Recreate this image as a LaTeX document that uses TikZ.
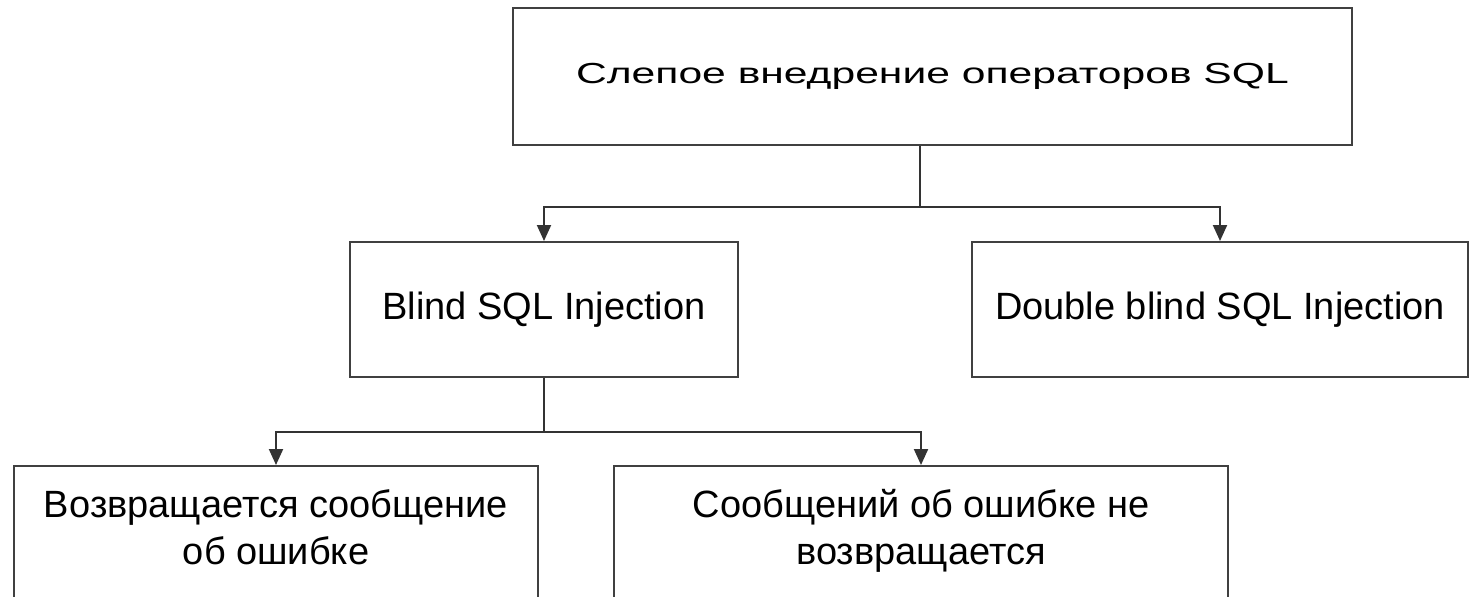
\documentclass[tikz,border=0pt]{standalone}
\usepackage{fontspec}
\setmainfont{Liberation Sans}
\usetikzlibrary{arrows.meta}

\tikzset{
  block/.style={draw=black!75, line width=1pt, align=center, inner sep=0pt,
    font=\fontsize{19}{23.5}\selectfont},
  leaf/.style={block, anchor=north, text height=49pt, text depth=48.5pt},
  arr/.style={draw=black!80, line width=1pt, -{Triangle[length=8pt,width=7pt]}},
  link/.style={draw=black!80, line width=1pt}
}

\begin{document}
\begin{tikzpicture}[x=0.5pt, y=-0.5pt]
  \useasboundingbox (0, 0) rectangle (1470, 596);
  \clip (0, 0) rectangle (1470, 596);

\node [block, minimum width=419.5pt, minimum height=68.5pt,
  font=\fontsize{14.5}{17}\selectfont] (blindsql) at (932.5, 76.5)
  {\scalebox{1.47}[1]{Слепое внедрение операторов SQL}};
\node [block, minimum width=194pt, minimum height=67.5pt] (blind) at (544, 309.5)
  {Blind SQL Injection};
\node [block, minimum width=248pt, minimum height=67.5pt] (dblind) at (1220, 309.5)
  {Double blind SQL Injection};
\node [leaf, minimum width=262pt] (errmsg) at (276, 465)
  {Возвращается сообщение\\об ошибке};
\node [leaf, minimum width=307pt] (noerr) at (921, 465)
  {Сообщений об ошибке не\\возвращается};

\coordinate (j1) at (920, 207);
\coordinate (j2) at (544, 432);

\draw [link] (blindsql.south -| j1) -- (j1);
\draw [arr] (j1) -| (blind.north);
\draw [arr] (j1) -| (dblind.north);

\draw [link] (blind.south) -- (j2);
\draw [arr] (j2) -| (errmsg.north);
\draw [arr] (j2) -| (noerr.north);

\end{tikzpicture}
\end{document}
